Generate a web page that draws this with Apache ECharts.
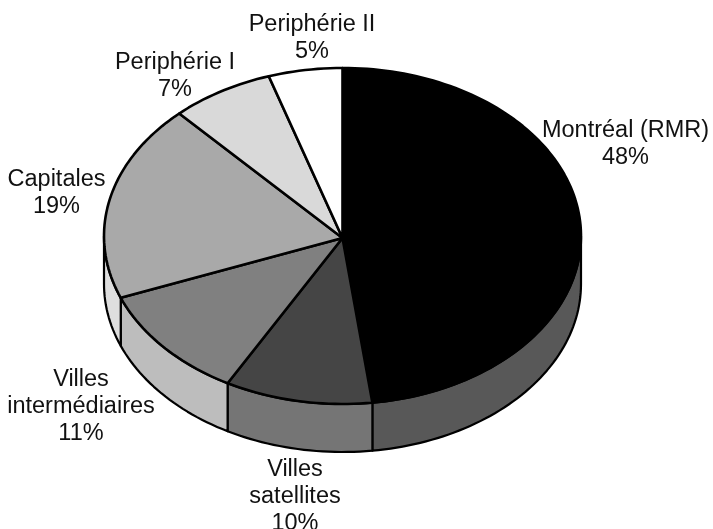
<!DOCTYPE html>
<html>
<head>
<meta charset="utf-8">
<style>html,body{margin:0;padding:0;background:#fff}#c{width:713px;height:529px}</style>
<script src="https://cdn.jsdelivr.net/npm/echarts@6/dist/echarts.min.js"></script>
</head>
<body>
<div id="c"></div>
<script>
// Data, clockwise from twelve o'clock
const categories = ['Montréal (RMR)', 'Villes satellites', 'Villes intermédiaires', 'Capitales', 'Periphérie I', 'Periphérie II'];
const values = [48, 10, 11, 19, 7, 5];
const percentLabels = ['48%', '10%', '11%', '19%', '7%', '5%'];

// Styles and layout
const labelLines = [['Montréal (RMR)'], ['Villes', 'satellites'], ['Villes', 'intermédiaires'], ['Capitales'], ['Periphérie I'], ['Periphérie II']];
const labelAnchors = [[625.5, 144], [295, 497], [81, 407], [56.5, 193], [175, 76], [312, 38]];
const topColors = ['#000000', '#454545', '#808080', '#a9a9a9', '#d9d9d9', '#ffffff'];
const wallColors = ['#585858', '#757575', '#bdbdbd', '#dedede', '#dedede', '#ffffff'];
const geom = { cx: 342.5, cy: 236, rx: 238.5, ry: 168, depth: 48, apexDrop: 2 };
const total = values.reduce((a, b) => a + b, 0);

function pt(deg, dy) {
  const t = deg * Math.PI / 180;
  return [geom.cx + geom.rx * Math.sin(t), geom.cy - geom.ry * Math.cos(t) + (dy || 0)];
}
function arc(a, b, dy) {
  const n = Math.max(2, Math.ceil(Math.abs(b - a) / 1.5));
  const out = [];
  for (let i = 0; i <= n; i++) out.push(pt(a + (b - a) * i / n, dy));
  return out;
}
function renderItem(params, api) {
  const i = params.dataIndex;
  let before = 0;
  for (let k = 0; k < i; k++) before += values[k];
  const a = before / total * 360;
  const b = a + api.value(0) / total * 360;
  const children = [];
  const wa = Math.max(a, 90), wb = Math.min(b, 270);
  if (wb > wa) {
    children.push({
      type: 'polygon',
      shape: { points: arc(wa, wb, 0).concat(arc(wb, wa, geom.depth)) },
      style: { fill: wallColors[i], stroke: '#000', lineWidth: 2.2, lineJoin: 'round' }
    });
  }
  children.push({
    type: 'polygon',
    shape: { points: [[geom.cx, geom.cy + geom.apexDrop]].concat(arc(a, b, 0)) },
    style: { fill: topColors[i], stroke: '#000', lineWidth: 2.6, lineJoin: 'round' },
    z2: 2
  });
  const txt = labelLines[i].concat([percentLabels[i]]).join('\n');
  children.push({
    type: 'text',
    z2: 5,
    style: {
      x: labelAnchors[i][0], y: labelAnchors[i][1],
      text: txt, fill: '#111',
      font: '23.5px "Liberation Sans", Arial, sans-serif',
      lineHeight: 27, align: 'center', verticalAlign: 'middle'
    }
  });
  return { type: 'group', children };
}
const chart = echarts.init(document.getElementById('c'), null, { renderer: 'canvas' });
chart.setOption({
  animation: false,
  backgroundColor: '#fff',
  series: [{
    type: 'custom',
    coordinateSystem: 'none',
    renderItem,
    clip: false,
    data: categories.map((name, i) => ({ name, value: [values[i]] }))
  }]
});
</script>
</body>
</html>
